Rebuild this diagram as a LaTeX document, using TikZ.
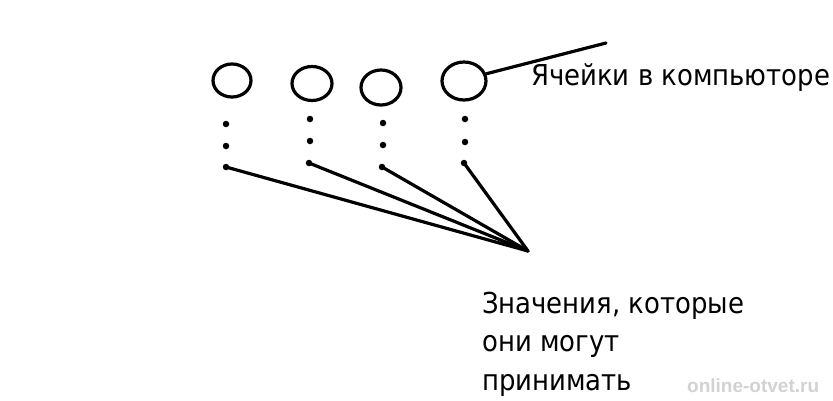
\documentclass[tikz,border=0pt]{standalone}
\usepackage{fontspec}
\usetikzlibrary{shapes.geometric}
\newfontfamily\comic[FakeStretch=0.9]{DejaVu Sans}
\newfontfamily\wmfont{Liberation Sans}
\begin{document}
\begin{tikzpicture}[x=1pt,y=-1pt,
  cell/.style={ellipse,draw,line width=3.2pt,inner sep=0pt},
  dotn/.style={circle,fill,inner sep=0pt,minimum size=6.5pt},
  conn/.style={line width=3.2pt,line cap=round},
  lbl/.style={font=\comic\fontsize{28.8}{38.5}\selectfont,inner sep=0pt,align=left}]
\useasboundingbox[fill=white] (0,0) rectangle (833,400);
% cells
\node[cell,minimum width=38pt,minimum height=33pt] (e1) at (232,80.5) {};
\node[cell,minimum width=40pt,minimum height=34pt] (e2) at (312,83.5) {};
\node[cell,minimum width=40pt,minimum height=35pt] (e3) at (381,87.5) {};
\node[cell,minimum width=44pt,minimum height=38pt] (e4) at (464,81) {};
% dots
\node[dotn] (d11) at (226,124) {};
\node[dotn] (d12) at (226,146) {};
\node[dotn] (d13) at (226,167) {};
\node[dotn] (d21) at (310,119) {};
\node[dotn] (d22) at (310,141) {};
\node[dotn] (d23) at (309,163) {};
\node[dotn] (d31) at (383,123) {};
\node[dotn] (d32) at (383,145) {};
\node[dotn] (d33) at (382,167) {};
\node[dotn] (d41) at (465,119) {};
\node[dotn] (d42) at (465,142) {};
\node[dotn] (d43) at (464,163) {};
\coordinate (conv) at (528,251);
\coordinate (lblend) at (606,43);
\draw[conn] (d13.center) -- (conv);
\draw[conn] (d23.center) -- (conv);
\draw[conn] (d33.center) -- (conv);
\draw[conn] (d43.center) -- (conv);
\draw[conn] (e4.18) -- (lblend);
% labels
\node[lbl,anchor=base west] (cells) at (531,85) {Ячейки в компьюторе};
\node[lbl,anchor=base west] (vals) at (482,390) {Значения, которые\\они могут\\принимать};
\node[font=\wmfont\bfseries\fontsize{19}{19}\selectfont,text=gray!35,anchor=base west,inner sep=0pt] (wm) at (687,392) {online-otvet.ru};
\end{tikzpicture}
\end{document}
